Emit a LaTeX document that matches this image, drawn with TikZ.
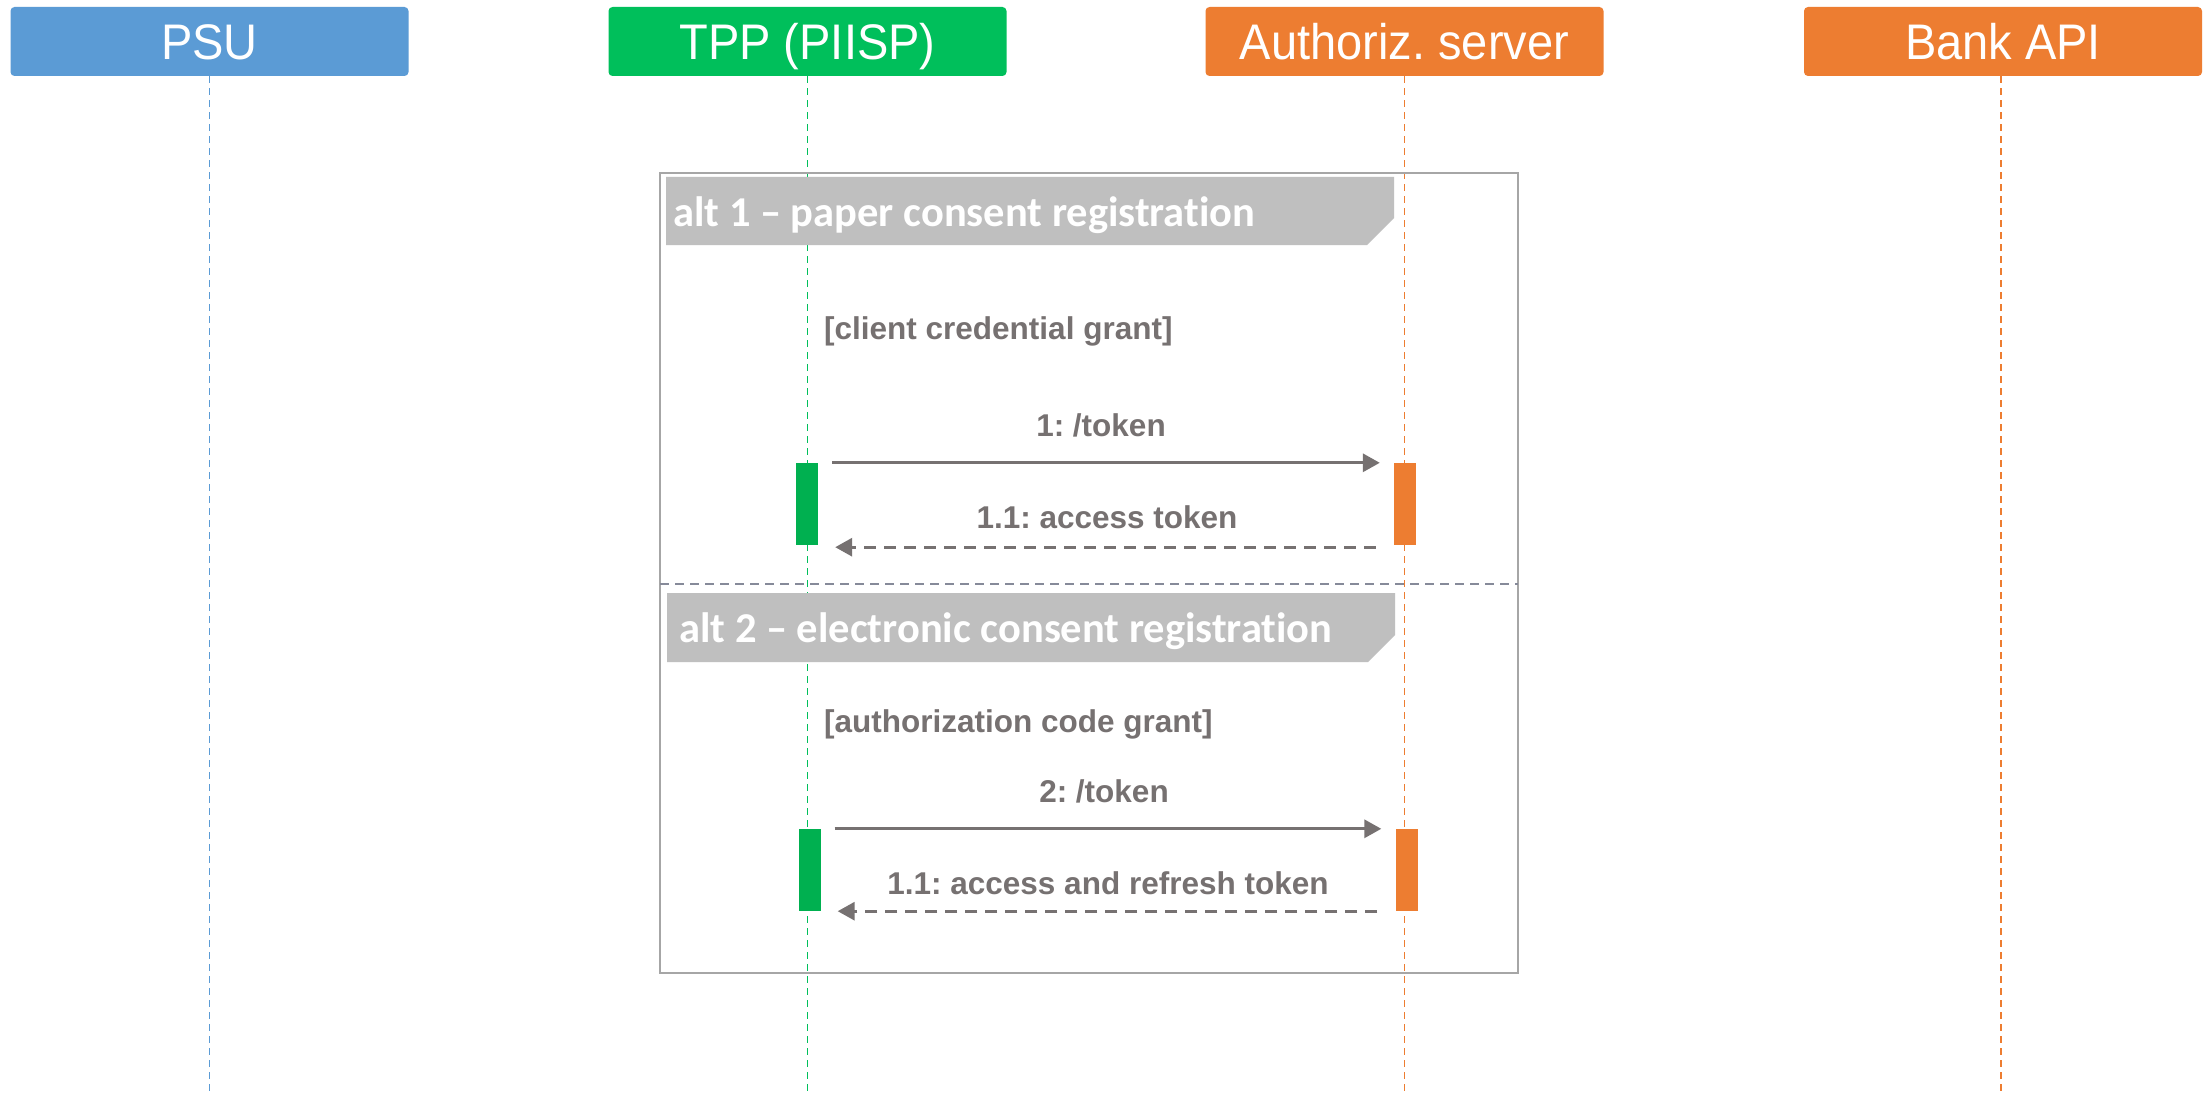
\documentclass[tikz,border=0pt]{standalone}
\usepackage{fontspec}
\setmainfont{Liberation Sans}
\newfontfamily\hdrfont[FakeStretch=0.94]{Liberation Sans}
\newfontfamily\altfont[Ligatures=NoCommon]{Carlito}
\usetikzlibrary{arrows.meta}
\definecolor{psublue}{HTML}{5B9BD5}
\definecolor{tppgreen}{HTML}{00BF5B}
\definecolor{bargreen}{HTML}{00B050}
\definecolor{orng}{HTML}{ED7D31}
\definecolor{lblgray}{HTML}{BFBFBF}
\definecolor{txtgray}{HTML}{767171}
\definecolor{framegray}{HTML}{A6A6A6}
\definecolor{sepgray}{HTML}{868A99}
\frenchspacing
\begin{document}
\begin{tikzpicture}[x=1pt,y=-1pt,
 header/.style={rounded corners=4pt, minimum width=398pt, minimum height=69pt, inner sep=0pt, text height=36pt, text depth=0pt, text=white, font=\hdrfont\fontsize{50}{60}\selectfont},
 lifeline/.style={dash pattern=on 7pt off 5pt, line width=1.4pt},
 actbar/.style={minimum width=22pt, minimum height=82pt, inner sep=0pt},
 msg/.style={draw=txtgray, line width=3.2pt, -{Triangle[length=17pt,width=18pt]}},
 ret/.style={msg, dash pattern=on 12pt off 8pt},
 msglabel/.style={text=txtgray, font=\bfseries\fontsize{31.5}{36}\selectfont, inner sep=0pt},
 guard/.style={msglabel, anchor=west},
 altlabel/.style={fill=lblgray, draw=none},
 alttext/.style={text=white, font=\altfont\bfseries\fontsize{42.5}{48}\selectfont, inner sep=0pt, anchor=base west},
 altframe/.style={draw=framegray, line width=2pt, minimum width=858pt, minimum height=800pt, inner sep=0pt}]
\useasboundingbox (0,0) rectangle (2208,1094);
\fill[white] (0,0) rectangle (2208,1094);

% headers
\node[header, fill=psublue] (psu) at (209.5,41.5) {PSU};
\node[header, fill=tppgreen] (tpp) at (807.5,41.5) {TPP (PIISP)};
\node[header, fill=orng] (as) at (1404.5,41.5) {Authoriz. server};
\node[header, fill=orng] (bank) at (2003,41.5) {Bank API};

% lifeline ends
\coordinate (psuend) at (209.5,1094);
\coordinate (tppend) at (807.5,1094);
\coordinate (asend) at (1404.5,1094);
\coordinate (bankend) at (2001,1094);

\draw[lifeline, draw=psublue] (psu.south) -- (psuend);
\draw[lifeline, draw=tppgreen] (tpp.south) -- (tppend);
\draw[lifeline, draw=orng] (as.south) -- (asend);
\draw[lifeline, draw=orng] ([xshift=-2pt]bank.south) -- (bankend);

% alt frame
\node[altframe] (frame) at (1089,573) {};
\coordinate (sepL) at (660,584);
\coordinate (sepR) at (1518,584);
\draw[draw=sepgray, line width=1.5pt, dash pattern=on 9pt off 6pt] (sepL) -- (sepR);

% alt 1 label
\fill[altlabel] (666,177) -- (1394,177) -- (1394,218) -- (1367,245) -- (666,245) -- cycle;
\node[alttext] (alt1) at (673,226) {alt 1 – paper consent registration};

% alt 2 label
\fill[altlabel] (667,593) -- (1395,593) -- (1395,635) -- (1368,662) -- (667,662) -- cycle;
\node[alttext] (alt2) at (679,642) {alt 2 – electronic consent registration};

% guards
\node[guard] (g1) at (824,331) {[client credential grant]};
\node[guard] (g2) at (824,724) {[authorization code grant]};

% activation bars
\node[actbar, fill=bargreen] (tb1) at (807,504) {};
\node[actbar, fill=orng] (ab1) at (1405,504) {};
\node[actbar, fill=bargreen] (tb2) at (809.5,870) {};
\node[actbar, fill=orng] (ab2) at (1406.5,870) {};

% messages
\draw[msg, shorten <=14pt, shorten >=14pt] (tb1.north east) -- (ab1.north west);
\node[msglabel] (m1) at (1101,425) {1: /token};
\draw[ret, shorten <=18pt, shorten >=17pt] ([yshift=-2pt]ab1.south west) -- ([yshift=-2pt]tb1.south east);
\node[msglabel] (r1) at (1107,517) {1.1: access token};

\draw[msg, shorten <=14pt, shorten >=14pt] (tb2.north east) -- (ab2.north west);
\node[msglabel] (m2) at (1104,791) {2: /token};
\draw[ret, shorten <=18pt, shorten >=17pt] (ab2.south west) -- (tb2.south east);
\node[msglabel] (r2) at (1108,883) {1.1: access and refresh token};
\end{tikzpicture}
\end{document}
